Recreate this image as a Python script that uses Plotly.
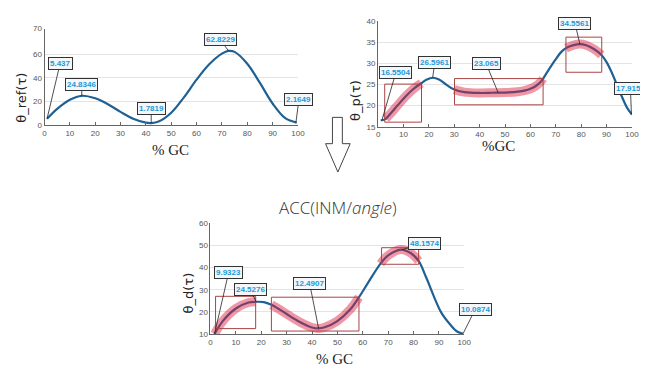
import plotly.graph_objects as go

W, H = 648, 367

# ---------------- data ----------------
ref_x = [1, 5, 10, 14.7, 20, 25, 30, 35, 40, 42.1, 45, 50, 55, 60, 65, 70, 72.6, 75, 80, 85, 90, 95, 99.5]
ref_y = [5.4, 13.8, 21.5, 24.83, 22.7, 17.7, 11.2, 5.4, 2.1, 1.78, 3.0, 10.5, 23.5, 38.5, 51.5, 60.5, 62.82, 62.0, 52.0, 35.7, 18.3, 5.9, 2.16]

p_x = [1, 2, 3, 5, 8, 11, 14, 17, 19, 21.5, 24, 27, 30, 34, 40, 45, 50, 55, 58, 60, 62, 64, 65, 67, 70, 72, 74, 77, 79.5, 82, 85, 88, 90, 92, 95, 98, 100]
p_y = [16.55, 16.6, 16.9, 18.2, 20.3, 22.3, 24.0, 25.3, 26.1, 26.6, 26.2, 24.9, 23.8, 23.2, 23.0, 23.05, 23.1, 23.3, 23.6, 24.0, 24.6, 25.6, 26.4, 28.3, 31.0, 32.6, 33.6, 34.3, 34.56, 34.3, 33.4, 32.0, 30.3, 27.9, 23.6, 19.6, 17.9]

d_x = [1.6, 5, 10, 15, 18, 21, 24, 27, 30, 35, 40, 42.6, 45, 50, 55, 58.5, 62, 67, 70, 75, 79, 82, 85, 88, 91, 94.6, 97, 99.5]
d_y = [10.0, 16.0, 21.5, 24.2, 24.53, 24.4, 23.2, 21.2, 19.0, 15.5, 12.9, 12.49, 13.0, 15.8, 21.0, 26.6, 33.0, 41.8, 45.5, 48.16, 46.5, 43.0, 35.5, 27.0, 19.5, 14.0, 11.2, 10.09]

# datatips: (x, y, text)
ref_tips = [(1, 5.4, "5.437"), (14.7, 24.83, "24.8346"), (42.1, 1.78, "1.7819"), (72.6, 62.82, "62.8229"), (99.2, 2.16, "2.1649")]
p_tips = [(1.5, 16.55, "16.5504"), (21.5, 26.6, "26.5961"), (47.3, 23.05, "23.065"), (79.5, 34.56, "34.5561"), (99.8, 17.95, "17.9153")]
d_tips = [(1.6, 10.0, "9.9323"), (18, 24.53, "24.5276"), (42.6, 12.49, "12.4907"), (75.5, 48.16, "48.1574"), (99.5, 10.09, "10.0874")]

# highlighted x ranges and boxes (x0, x1, y0, y1)
p_hl = [(2.9, 17.1), (30, 65), (74, 88)]
p_boxes = [(2.6, 17.1, 16.1, 25.1), (30.1, 65.0, 20.2, 26.4), (74, 88.1, 27.9, 36.2)]
d_hl = [(1.6, 18), (24, 58.5), (67, 82)]
d_boxes = [(2, 17.8, 12.4, 27), (24, 58.5, 11.3, 26.6), (67.4, 82, 41.5, 49)]

# ---------------- styling ----------------
BLUE = "#1f6195"
HL = "rgba(222,25,55,0.45)"
BOXC = "#a94545"
TIPC = "#1c9ad8"


def px(x):
    return x / W


def py(y):
    return 1 - y / H


fig = go.Figure()

axes = {
    # name: (xdomain px, ydomain px (top,bottom), yrange, tickvals, ticktext)
    "1": ((35, 292), (17, 116), [0, 81.7], [0, 20, 40, 60, 81.7], ["0", "20", "40", "60", "70"]),
    "2": ((373.3, 630.7), (9.3, 117.7), [15, 40], [15, 20, 25, 30, 35, 40], ["15", "20", "25", "30", "35", "40"]),
    "3": ((203.3, 460.7), (216.7, 330), [10, 60], [10, 20, 30, 40, 50, 60], ["10", "20", "30", "40", "50", "60"]),
}

layout = dict(
    width=W, height=H, margin=dict(l=0, r=0, t=0, b=0),
    paper_bgcolor="white", plot_bgcolor="white", showlegend=False,
    font=dict(family="Liberation Sans, Arial", size=9, color="#555"),
)
for k, (xd, yd, yr, tv, tt) in axes.items():
    xn = "xaxis" if k == "1" else "xaxis" + k
    yn = "yaxis" if k == "1" else "yaxis" + k
    layout[xn] = dict(domain=[px(xd[0]), px(xd[1])], range=[0, 100], anchor="y" if k == "1" else "y" + k,
                      tickvals=list(range(0, 101, 10)), ticks="inside", ticklen=3, tickcolor="#666",
                      showline=True, linecolor="#666", linewidth=1, showgrid=False, zeroline=False,
                      tickfont=dict(size=8, color="#555"))
    layout[yn] = dict(domain=[py(yd[1]), py(yd[0])], range=yr, anchor="x" if k == "1" else "x" + k,
                      tickvals=tv, ticktext=tt, ticks="", showline=True, linecolor="#666", linewidth=1,
                      showgrid=True, gridcolor="#e4e4e4", gridwidth=1, zeroline=False,
                      tickfont=dict(size=8, color="#555"))
fig.update_layout(**layout)


def add_curve(xs, ys, xa, ya, hls):
    fig.add_trace(go.Scatter(x=xs, y=ys, mode="lines", line=dict(color=BLUE, width=2.2, shape="spline"),
                             xaxis=xa, yaxis=ya, hoverinfo="skip", cliponaxis=False))
    for a, b in hls:
        sx = [x for x in xs if a <= x <= b]
        sy = [y for x, y in zip(xs, ys) if a <= x <= b]
        fig.add_trace(go.Scatter(x=sx, y=sy, mode="lines", line=dict(color=HL, width=9, shape="spline"),
                                 xaxis=xa, yaxis=ya, hoverinfo="skip", cliponaxis=False))


add_curve(ref_x, ref_y, "x", "y", [])
add_curve(p_x, p_y, "x2", "y2", p_hl)
add_curve(d_x, d_y, "x3", "y3", d_hl)

for (x0, x1, y0, y1) in p_boxes:
    fig.add_shape(type="rect", xref="x2", yref="y2", x0=x0, x1=x1, y0=y0, y1=y1,
                  line=dict(color=BOXC, width=1))
for (x0, x1, y0, y1) in d_boxes:
    fig.add_shape(type="rect", xref="x3", yref="y3", x0=x0, x1=x1, y0=y0, y1=y1,
                  line=dict(color=BOXC, width=1))

# datatip label offsets (pixels)
ref_off = [(13, -55), (0, -11), (0, -15), (-8, -11), (3, -23)]
p_off = [(14, -48), (2, -15), (-12, -29), (-5, -21), (-1, -26)]
d_off = [(14, -61), (-6, -12), (-9, -45), (22, -6), (12, -24)]


def add_tips(tips, offs, xr, yr):
    for (x, y, t), (ax, ay) in zip(tips, offs):
        fig.add_annotation(x=x, y=y, xref=xr, yref=yr, text="<b>%s</b>" % t, showarrow=True,
                           arrowhead=0, arrowwidth=0.8, arrowcolor="#222", ax=ax, ay=ay,
                           bgcolor="#f3f7fa", bordercolor="#333", borderwidth=1, borderpad=1,
                           font=dict(family="Liberation Sans, Arial", size=8, color=TIPC))


add_tips(ref_tips, ref_off, "x", "y")
add_tips(p_tips, p_off, "x2", "y2")
add_tips(d_tips, d_off, "x3", "y3")

# axis titles
serif = dict(family="Liberation Serif, Times New Roman", size=15, color="#222")
ytf = dict(family="DejaVu Sans", size=13, color="#222")
for (x, y, t, f, ang) in [
    (162.5, 141.5, "% GC", serif, 0),
    (495, 137, "%GC", serif, 0),
    (329, 356, "% GC", serif, 0),
    (12, 88, "θ_ref(τ)", ytf, -90),
    (351, 91, "θ_p(τ)", ytf, -90),
    (181, 288, "θ_d(τ)", ytf, -90),
]:
    fig.add_annotation(x=px(x), y=py(y), xref="paper", yref="paper", text=t, showarrow=False,
                       font=f, textangle=ang, xanchor="center", yanchor="middle")

fig.add_annotation(x=px(333), y=py(200), xref="paper", yref="paper", text="ACC(INM/<i>angle</i>)",
                   showarrow=False, font=dict(family="Open Sans", size=17, color="#333", weight=300),
                   xanchor="center", yanchor="middle")

# down arrow between the panels
pts = [(327, 108), (337, 108), (337, 135), (345, 135), (332.5, 164), (320, 135), (327, 135)]
path = "M " + " L ".join("%.4f,%.4f" % (px(x), py(y)) for x, y in pts) + " Z"
fig.add_shape(type="path", xref="paper", yref="paper", path=path, line=dict(color="#444", width=1),
              fillcolor="white")

fig.write_html("out.html")
